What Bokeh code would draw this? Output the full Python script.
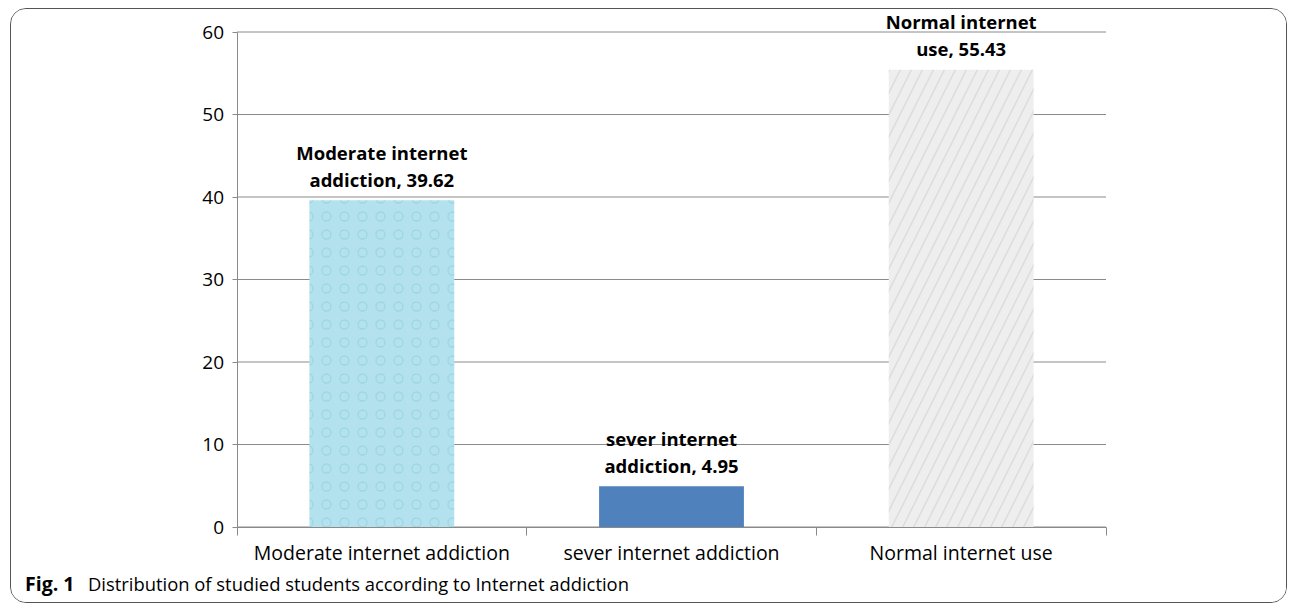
from bokeh.plotting import figure
from bokeh.models import Range1d, FixedTicker, LinearAxis
from bokeh.core.properties import value
from bokeh.embed import file_html
from bokeh.resources import INLINE

categories = ["Moderate internet addiction", "sever internet addiction", "Normal internet use"]
percentages = [39.62, 4.95, 55.43]
bar_labels = ["Moderate internet\naddiction, 39.62", "sever internet\naddiction, 4.95", "Normal internet\nuse, 55.43"]
y_ticks = [0, 10, 20, 30, 40, 50, 60]
caption_bold = "Fig. 1"
caption_text = "Distribution of studied students according to Internet addiction"

FONT = "Open Sans"
GRID = "#8a8a8a"

n = len(categories)
xs = [i + 0.5 for i in range(n)]
boundaries = list(range(n + 1))
label_line1 = [t.split("\n")[0] for t in bar_labels]
label_line2 = [t.split("\n")[1] for t in bar_labels]

# layout (window pixels): figure content starts at (11.5, 9.5); plot area 237..1106 x 32..527
OX, OY, W, H = 11.5, 9.5, 1277, 595
XPX = (1106 - 237) / n
YPX = (527 - 32) / y_ticks[-1]
x_lo = -(237 - OX) / XPX
x_hi = n + (OX + W - 1106) / XPX
y_hi = y_ticks[-1] + (32 - OY) / YPX
y_lo = -(OY + H - 527) / YPX

p = figure(width=W, height=H, output_backend="svg", toolbar_location=None,
           x_range=Range1d(x_lo, x_hi), y_range=Range1d(y_lo, y_hi),
           x_axis_type=None, y_axis_type=None,
           min_border_left=0, min_border_right=0, min_border_top=0, min_border_bottom=0)
p.margin = (8, 0, 0, 10)
p.styles = {"border": "1.5px solid #555", "border-radius": "16px", "overflow": "hidden"}
p.outline_line_color = None
p.grid.visible = False

# horizontal gridlines across the category span
p.segment(x0=[0] * len(y_ticks), x1=[n] * len(y_ticks), y0=y_ticks, y1=y_ticks,
          line_color=GRID, line_width=1)

ya = LinearAxis(ticker=FixedTicker(ticks=y_ticks, minor_ticks=[]), fixed_location=0,
                bounds=(0, y_ticks[-1]))
ya.axis_line_color = GRID
ya.major_tick_line_color = GRID
ya.major_tick_in = 0
ya.major_tick_out = 5
ya.minor_tick_line_color = None
ya.major_label_text_font = FONT
ya.major_label_text_font_size = "19px"
ya.major_label_text_color = "black"
ya.major_label_standoff = 8
p.add_layout(ya, "left")

lx = LinearAxis(ticker=FixedTicker(ticks=xs, minor_ticks=boundaries),
                major_label_overrides={x: c for x, c in zip(xs, categories)},
                fixed_location=0, bounds=(0, n))
lx.axis_line_color = GRID
lx.major_tick_line_color = None
lx.major_tick_out = 0
lx.major_tick_in = 0
lx.minor_tick_line_color = GRID
lx.minor_tick_in = 0
lx.minor_tick_out = 8
lx.major_label_text_font = FONT
lx.major_label_text_font_size = "19.5px"
lx.major_label_text_color = "black"
lx.major_label_standoff = 4
p.add_layout(lx, "below")

# bars
p.vbar(x=[xs[0]], top=[percentages[0]], width=0.5, fill_color="#b3e2ee", line_color=None,
       hatch_pattern="ring", hatch_color="#86c9dc", hatch_scale=18, hatch_alpha=0.5, hatch_weight=1.3)
p.vbar(x=[xs[1]], top=[percentages[1]], width=0.5, fill_color="#4f81bd", line_color=None)
p.vbar(x=[xs[2]], top=[percentages[2]], width=0.5, fill_color="#eeeeee", line_color=None,
       hatch_pattern="right_diagonal_line", hatch_color="#c0c0c0", hatch_scale=22, hatch_alpha=0.4, hatch_weight=1.5)

common = dict(text_align="center", text_baseline="middle", text_font=value(FONT),
              text_font_style="bold", text_font_size="18.5px", text_color="black")
p.text(x=xs, y=percentages, text=label_line2, y_offset=-21, **common)
p.text(x=xs, y=percentages, text=label_line1, y_offset=-48, **common)

cap_y = (527 - 583) / YPX
p.text(x=[(25 - 237) / XPX], y=[cap_y], text=[caption_bold], text_font=value(FONT),
       text_font_style="bold", text_font_size="19.5px", text_baseline="middle", text_color="black")
p.text(x=[(88 - 237) / XPX], y=[cap_y], text=[caption_text], text_font=value(FONT),
       text_font_size="18.4px", text_baseline="middle", text_color="black")

open("out.html", "w").write(file_html(p, INLINE))
